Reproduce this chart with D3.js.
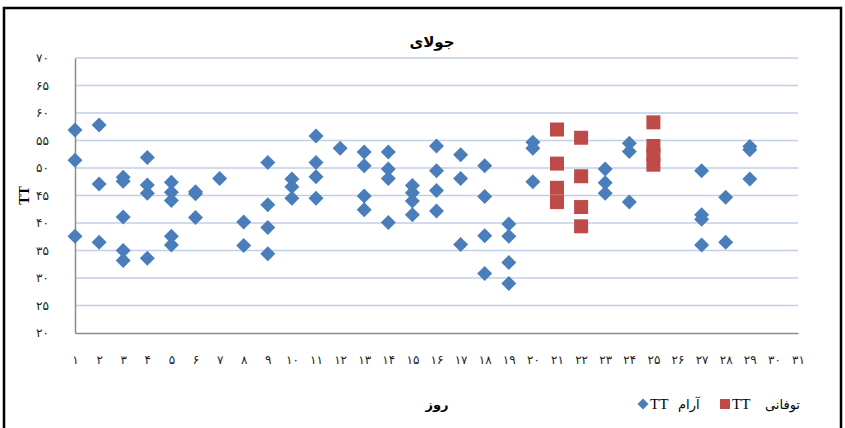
<!DOCTYPE html>
<html><head><meta charset="utf-8">
<script src="https://cdn.jsdelivr.net/npm/d3@7"></script>
<style>
body{margin:0;background:#fff;}
svg text{font-family:"DejaVu Sans","Noto Sans",sans-serif;}
</style></head>
<body><svg id="c" width="845" height="428"></svg>
<script>
const title = "جولای";
const xTitle = "روز";
const yTitle = "TT";
const yTicks = [20,25,30,35,40,45,50,55,60,65,70];
const xTicks = d3.range(1,32);
const calmName = "آرام TT";
const stormName = "توفانی TT";

const calmDays = [1,1,1, 2,2,2, 3,3,3,3,3, 4,4,4,4, 5,5,5,5,5, 6,6,6, 7, 8,8, 9,9,9,9, 10,10,10, 11,11,11,11, 12, 13,13,13,13, 14,14,14,14, 15,15,15,15, 16,16,16,16, 17,17,17, 18,18,18,18, 19,19,19,19, 20,20,20, 23,23,23, 24,24,24, 27,27,27,27, 28,28, 29,29,29];
const calmValues = [56.9,51.4,37.6, 57.8,47.1,36.5, 48.3,47.6,41.1,35.0,33.2, 51.9,46.9,45.4,33.6, 47.4,45.6,44.1,37.6,36.0, 45.7,45.3,41.0, 48.1, 40.2,35.9, 51.0,43.3,39.2,34.4, 48.0,46.6,44.5, 55.8,51.0,48.4,44.5, 53.6, 52.9,50.4,44.9,42.4, 52.9,49.8,48.1,40.1, 46.8,45.5,44.0,41.5, 54.0,49.5,45.9,42.2, 52.4,48.1,36.1, 50.4,44.8,37.7,30.8, 39.8,37.6,32.8,29.0, 54.7,53.6,47.5, 49.8,47.3,45.4, 54.5,53.0,43.8, 49.5,41.5,40.7,36.0, 44.7,36.5, 53.9,53.3,48.0];
const stormDays = [21,21,21,21, 22,22,22,22, 25,25,25,25];
const stormValues = [57.0,50.8,46.4,43.8, 55.5,48.5,42.9,39.4, 58.3,54.0,52.4,50.6];

const fa = n => String(n).replace(/\d/g, d => "۰۱۲۳۴۵۶۷۸۹"[d]);

const svg = d3.select("#c");
// outer frame
svg.append("rect").attr("x",4).attr("y",8).attr("width",837).attr("height",440)
  .attr("fill","none").attr("stroke","#000").attr("stroke-width",2.5);

const x = d3.scaleLinear().domain([1,31]).range([75,798]);
const y = d3.scaleLinear().domain([20,70]).range([333,58]);

// gridlines
svg.append("g").selectAll("line").data(yTicks.filter(v=>v>20)).join("line")
  .attr("x1",x(1)).attr("x2",x(31)).attr("y1",d=>y(d)).attr("y2",d=>y(d))
  .attr("stroke","#c3cfe8").attr("stroke-width",1.5);

// axes
const yAxis = svg.append("g").attr("transform",`translate(${x(1)},0)`)
  .call(d3.axisLeft(y).tickValues(yTicks).tickSize(0).tickPadding(26).tickFormat(fa));
const xAxis = svg.append("g").attr("transform",`translate(0,${y(20)})`)
  .call(d3.axisBottom(x).tickValues(xTicks).tickSize(0).tickPadding(22).tickFormat(fa));
[yAxis,xAxis].forEach(a=>{
  a.select(".domain").attr("stroke","#8c8c8c").attr("stroke-width",1.5);
  a.selectAll("text").attr("fill","#222").style("font-size","12px");
});

// series
svg.append("g").selectAll("path").data(calmDays.map((d,i)=>[d,calmValues[i]])).join("path")
  .attr("transform",d=>`translate(${x(d[0])},${y(d[1])})`)
  .attr("d","M0,-7.5L7.5,0L0,7.5L-7.5,0Z").attr("fill","#4a7ebb");
svg.append("g").selectAll("rect").data(stormDays.map((d,i)=>[d,stormValues[i]])).join("rect")
  .attr("x",d=>x(d[0])-7).attr("y",d=>y(d[1])-7).attr("width",14).attr("height",14)
  .attr("fill","#be4b48");

// titles
svg.append("text").attr("x",432).attr("y",47).attr("text-anchor","middle")
  .style("font-size","15px").style("font-weight","bold").text(title);
svg.append("text").attr("transform",`translate(26,${y(45)}) rotate(-90)`).attr("text-anchor","middle")
  .attr("dominant-baseline","middle")
  .style("font-family","Liberation Serif").style("font-size","14px").style("font-weight","bold").text(yTitle);
svg.append("text").attr("x",437).attr("y",409).attr("text-anchor","middle")
  .style("font-size","13px").style("font-weight","bold").text(xTitle);

// legend (markers drawn with the same generators as the series)
const legendItems = [
  {name: calmName, color: "#4a7ebb", shape: "diamond", x: 643},
  {name: stormName, color: "#be4b48", shape: "square", x: 725}
];
const lg = svg.append("g").attr("class","legend");
legendItems.forEach(it => {
  const g = lg.append("g").attr("transform",`translate(${it.x},404)`);
  if (it.shape === "diamond") {
    g.append("path").attr("d","M0,-5.5L5.5,0L0,5.5L-5.5,0Z").attr("fill",it.color);
  } else {
    g.append("path").attr("d","M-5,-5L5,-5L5,5L-5,5Z").attr("fill",it.color);
  }
  const parts = it.name.split(" ");
  g.append("text").attr("x",7).attr("y",5).style("font-family","Liberation Serif").style("font-size","15px").text(parts[1]);
  g.append("text").attr("x",it.shape==="diamond"?35:40).attr("y",5).style("font-size","13px").text(parts[0]);
});
</script></body></html>
